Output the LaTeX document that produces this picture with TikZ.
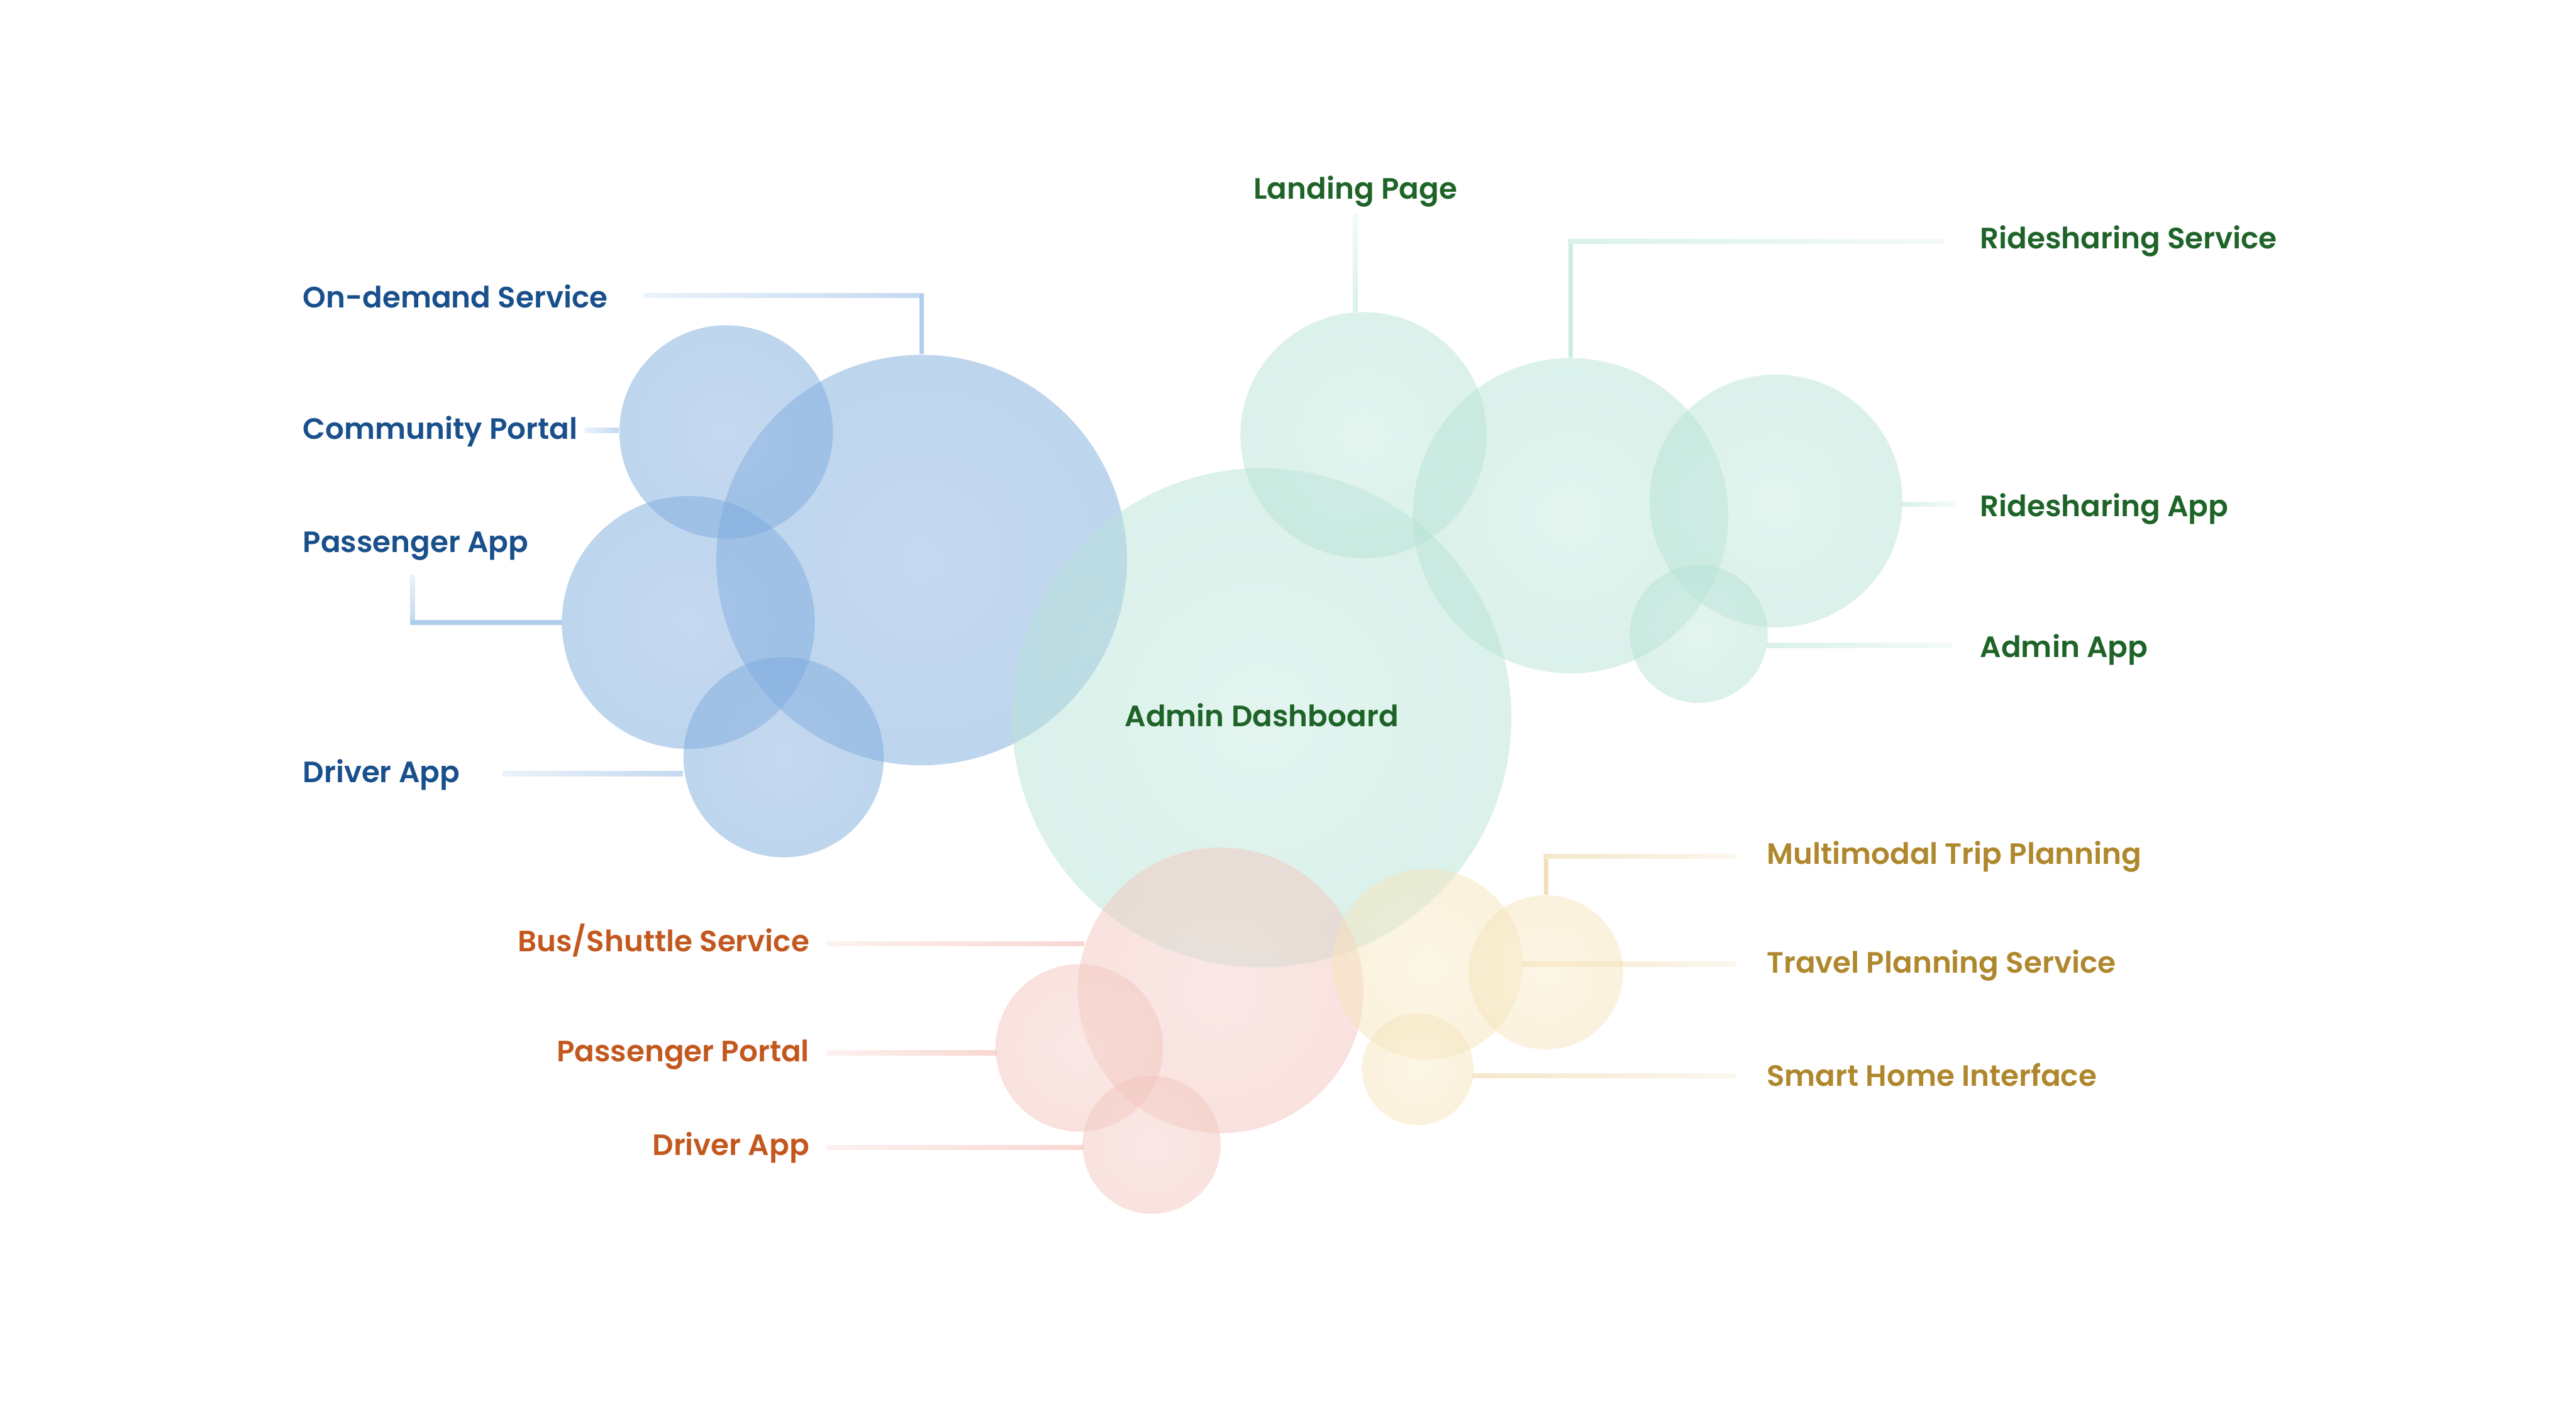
\documentclass[tikz,border=0pt]{standalone}
\usepackage{fontspec}
\setmainfont{Poppins}[UprightFont=* Medium, BoldFont=* SemiBold]
\usetikzlibrary{calc}
\definecolor{blueIn}{RGB}{140,180,225}
\definecolor{blueOut}{RGB}{110,162,218}
\definecolor{greenIn}{RGB}{200,234,224}
\definecolor{greenOut}{RGB}{165,220,204}
\definecolor{redIn}{RGB}{245,210,205}
\definecolor{redOut}{RGB}{240,185,175}
\definecolor{yelIn}{RGB}{250,238,205}
\definecolor{yelOut}{RGB}{242,220,170}
\definecolor{blueL}{RGB}{176,205,235}
\definecolor{greenL}{RGB}{205,237,228}
\definecolor{redL}{RGB}{245,202,194}
\definecolor{yelL}{RGB}{240,224,185}
\definecolor{blueT}{RGB}{25,80,140}
\definecolor{greenT}{RGB}{30,100,40}
\definecolor{orangeT}{RGB}{195,88,30}
\definecolor{goldT}{RGB}{175,135,45}
\pgfdeclareradialshading{blueshade}{\pgfpoint{0bp}{0bp}}{color(0bp)=(blueIn); color(50bp)=(blueOut); color(100bp)=(blueOut)}
\pgfdeclareradialshading{greenshade}{\pgfpoint{0bp}{0bp}}{color(0bp)=(greenIn); color(50bp)=(greenOut); color(100bp)=(greenOut)}
\pgfdeclareradialshading{redshade}{\pgfpoint{0bp}{0bp}}{color(0bp)=(redIn); color(50bp)=(redOut); color(100bp)=(redOut)}
\pgfdeclareradialshading{yelshade}{\pgfpoint{0bp}{0bp}}{color(0bp)=(yelIn); color(50bp)=(yelOut); color(100bp)=(yelOut)}
% linear fades: white on the left, line colour on the right
\pgfdeclarehorizontalshading{blueFade}{100bp}{color(0bp)=(white); color(100bp)=(blueL)}
\pgfdeclarehorizontalshading{greenFade}{100bp}{color(0bp)=(white); color(100bp)=(greenL)}
\pgfdeclarehorizontalshading{redFade}{100bp}{color(0bp)=(white); color(100bp)=(redL)}
\pgfdeclarehorizontalshading{yelFade}{100bp}{color(0bp)=(white); color(100bp)=(yelL)}
\begin{document}
\begin{tikzpicture}[x=0.02cm,y=-0.02cm,
  bub/.style={circle, inner sep=0pt, draw=none, minimum size=#1*0.04cm, fill opacity=0.5},
  bbub/.style={bub=#1, shade, shading=blueshade},
  gbub/.style={bub=#1, shade, shading=greenshade},
  rbub/.style={bub=#1, shade, shading=redshade},
  ybub/.style={bub=#1, shade, shading=yelshade},
  lbl/.style={font=\bfseries\fontsize{10.2}{12}\selectfont, inner sep=0pt, text height=0.72em, text depth=0pt},
  lead/.style={line width=0.056cm},
  fadeL/.style={shading=#1},
  fadeR/.style={shading=#1, shading angle=180},
  fadeT/.style={shading=#1, shading angle=270}]
\useasboundingbox (0,0) rectangle (1568,854.8);
% bubble anchors
\path
  (561,341) node[bub=125] (ods) {}
  (442,263) node[bub=65] (cp) {}
  (419,379) node[bub=77] (pa) {}
  (477,461) node[bub=61] (da) {}
  (768,437) node[bub=152] (ad) {}
  (830,265) node[bub=75] (lp) {}
  (956,314) node[bub=96] (rss) {}
  (1081,305) node[bub=77] (rsa) {}
  (1034,386) node[bub=42] (aa) {}
  (743,603) node[bub=87] (bs) {}
  (657,638) node[bub=51] (pp) {}
  (701,697) node[bub=42] (dr) {}
  (869,587) node[bub=58] (tp) {}
  (941,592) node[bub=47] (mm) {}
  (863,651) node[bub=34] (sh) {};
% faded (free) ends of the leader lines
\coordinate (odsF) at (392,180);
\coordinate (cpF) at (356,262);
\coordinate (paF) at (251,350);
\coordinate (daF) at (306,471);
\coordinate (lpF) at (825,130);
\coordinate (rssF) at (1183,147);
\coordinate (rsaF) at (1190,307);
\coordinate (aaF) at (1188,393);
\coordinate (mmF) at (1057,521.5);
\coordinate (tpF) at (1057,587);
\coordinate (shF) at (1057,655);
\coordinate (bsF) at (503,574.5);
\coordinate (ppF) at (503,641);
\coordinate (drF) at (503,698.5);
% leader lines
\shade[fadeL=blueFade] ($(odsF)+(0,-1.4)$) rectangle ($(odsF -| ods.north)+(1.4,1.4)$);
\draw[lead, blueL] (ods.north) -- ($(odsF -| ods.north)+(0,-1.4)$);
\shade[fadeL=blueFade] ($(cpF)+(0,-1.4)$) rectangle ($(cpF -| cp.west)+(0,1.4)$);
\shade[fadeT=blueFade] ($(paF)+(-1.4,0)$) rectangle ($(paF |- pa.west)+(1.4,-1.4)$);
\draw[lead, blueL] ($(paF |- pa.west)+(-1.4,0)$) -- (pa.west);
\shade[fadeL=blueFade] ($(daF)+(0,-1.4)$) rectangle ($(daF -| da.west)+(0,1.4)$);
\shade[fadeT=greenFade] ($(lpF)+(-1.4,0)$) rectangle ($(lpF |- lp.north)+(1.4,0)$);
\draw[lead, greenL] (rss.north) -- ($(rss.north |- rssF)+(0,-1.4)$);
\shade[fadeR=greenFade] ($(rss.north |- rssF)+(-1.4,-1.4)$) rectangle ($(rssF)+(0,1.4)$);
\shade[fadeR=greenFade] ($(rsaF -| rsa.east)+(-1,-1.4)$) rectangle ($(rsaF)+(0,1.4)$);
\shade[fadeR=greenFade] ($(aaF -| aa.east)+(-1,-1.4)$) rectangle ($(aaF)+(0,1.4)$);
\draw[lead, yelL] (mm.north) -- ($(mm.north |- mmF)+(0,-1.4)$);
\shade[fadeR=yelFade] ($(mm.north |- mmF)+(-1.4,-1.4)$) rectangle ($(mmF)+(0,1.4)$);
\shade[fadeR=yelFade] ($(tpF -| tp.east)+(-1,-1.4)$) rectangle ($(tpF)+(0,1.4)$);
\shade[fadeR=yelFade] ($(shF -| sh.east)+(-1,-1.4)$) rectangle ($(shF)+(0,1.4)$);
\shade[fadeL=redFade] ($(bsF)+(0,-1.4)$) rectangle ($(bsF -| bs.west)+(4,1.4)$);
\shade[fadeL=redFade] ($(ppF)+(0,-1.4)$) rectangle ($(ppF -| pp.west)+(1,1.4)$);
\shade[fadeL=redFade] ($(drF)+(0,-1.4)$) rectangle ($(drF -| dr.west)+(1,1.4)$);
% bubbles
\node[bbub=125] at (ods) {};
\node[bbub=65] at (cp) {};
\node[bbub=77] at (pa) {};
\node[bbub=61] at (da) {};
\node[gbub=152] at (ad) {};
\node[gbub=75] at (lp) {};
\node[gbub=96] at (rss) {};
\node[gbub=77] at (rsa) {};
\node[gbub=42] at (aa) {};
\node[rbub=87] at (bs) {};
\node[rbub=51] at (pp) {};
\node[rbub=42] at (dr) {};
\node[ybub=58] at (tp) {};
\node[ybub=47] at (mm) {};
\node[ybub=34] at (sh) {};
% labels
\node[lbl, blueT, anchor=west] (odsT) at (184,181) {On-demand Service};
\node[lbl, blueT, anchor=west] (cpT) at (184,261) {Community Portal};
\node[lbl, blueT, anchor=west] (paT) at (184,330) {Passenger App};
\node[lbl, blueT, anchor=west] (daT) at (184,470) {Driver App};
\node[lbl, greenT] (lpT) at (825,115) {Landing Page};
\node[lbl, greenT, anchor=west] (rsT) at (1205,145) {Ridesharing Service};
\node[lbl, greenT, anchor=west] (raT) at (1205,308) {Ridesharing App};
\node[lbl, greenT, anchor=west] (aaT) at (1205,394) {Admin App};
\node[lbl, greenT] (adT) at (768,436) {Admin Dashboard};
\node[lbl, goldT, anchor=west] (mmT) at (1075,520) {Multimodal Trip Planning};
\node[lbl, goldT, anchor=west] (tpT) at (1075,586) {Travel Planning Service};
\node[lbl, goldT, anchor=west] (shT) at (1075,655) {Smart Home Interface};
\node[lbl, orangeT, anchor=east] (bsT) at (493,573) {Bus/Shuttle Service};
\node[lbl, orangeT, anchor=east] (ppT) at (493,640) {Passenger Portal};
\node[lbl, orangeT, anchor=east] (drT) at (493,697) {Driver App};
\end{tikzpicture}
\end{document}
